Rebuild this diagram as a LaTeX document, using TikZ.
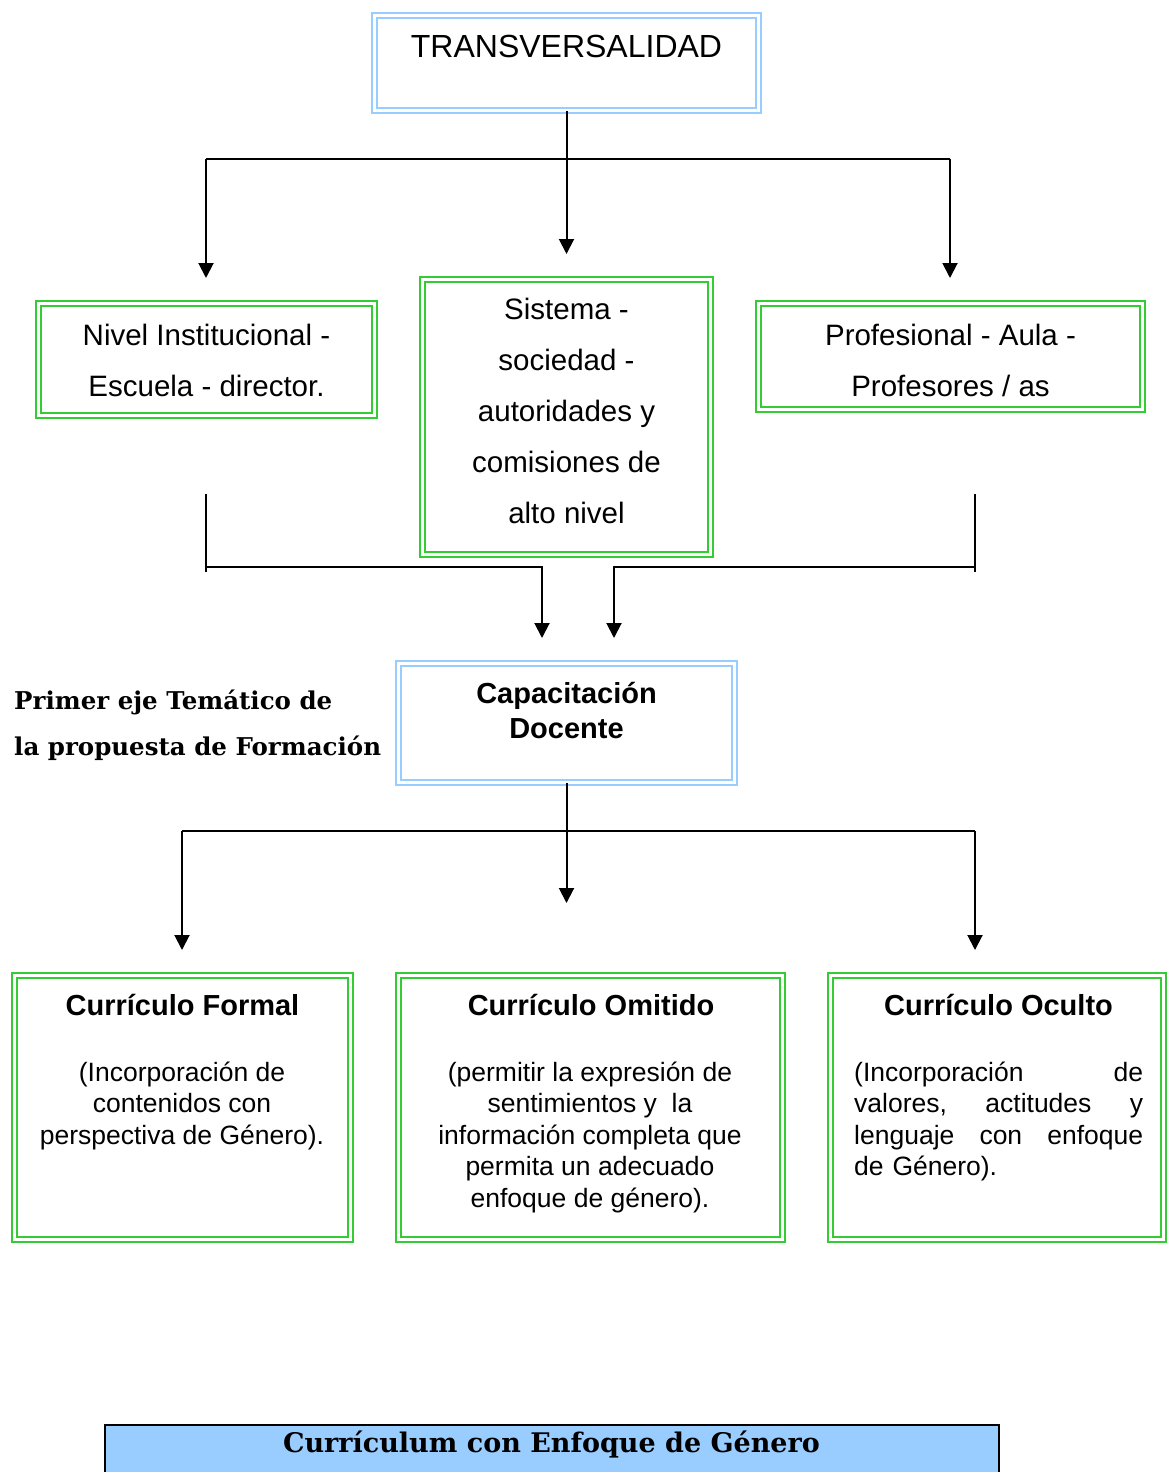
\documentclass[tikz,border=0pt]{standalone}
\usepackage{fontspec}
\setmainfont{Liberation Sans}
\newfontfamily\headserif{DejaVu Serif}
\usetikzlibrary{arrows.meta}
\definecolor{boxblue}{RGB}{153,204,255}
\definecolor{boxgreen}{RGB}{51,204,51}
\definecolor{bannerblue}{RGB}{153,204,255}

\begin{document}
\begin{tikzpicture}[x=1pt,y=-1pt,
  dbox/.style={draw=#1, double=white, double distance=2.6pt, line width=1.8pt,
               inner sep=0pt, rectangle},
  bluebox/.style={dbox=boxblue},
  greenbox/.style={dbox=boxgreen},
  conn/.style={line width=2pt, black},
  arr/.style={conn, -{Triangle[width=15pt,length=15pt]}},
  txt/.style={inner sep=0pt, anchor=base, align=center},
  big/.style={font=\fontsize{32}{38}\selectfont},
  mid/.style={font=\fontsize{29.5}{50.8}\selectfont},
  ttl/.style={font=\bfseries\fontsize{29}{35}\selectfont},
  body/.style={font=\fontsize{26.5}{31.5}\selectfont},
]
\useasboundingbox (0,0) rectangle (1167,1472);

% ---- boxes ----
\node[bluebox, minimum width=384pt, minimum height=95pt] (trans) at (566.5,63) {};
\node[greenbox, minimum width=336pt, minimum height=112pt] (inst) at (206.5,359.5) {};
\node[greenbox, minimum width=288pt, minimum height=275pt] (sist) at (566.5,417) {};
\node[greenbox, minimum width=384pt, minimum height=106pt] (prof) at (950.5,356.5) {};
\node[bluebox, minimum width=336pt, minimum height=119pt] (cap) at (566.5,723) {};
\node[greenbox, minimum width=336pt, minimum height=264pt] (formal) at (182.5,1107.5) {};
\node[greenbox, minimum width=384pt, minimum height=264pt] (omit) at (590.5,1107.5) {};
\node[greenbox, minimum width=333pt, minimum height=264pt] (oculto) at (997,1107.5) {};
\node[draw=black, line width=2pt, fill=bannerblue, inner sep=0pt,
      minimum width=894pt, minimum height=52pt] (banner) at (552,1451) {};

% ---- texts (multi-line nodes sit on the baseline of their last line) ----
\node[txt, big] (transT) at (566.5,58) {TRANSVERSALIDAD};
\node[txt, mid] (instT) at (206.5,396) {Nivel Institucional -\\Escuela - director.};
\node[txt, mid] (sistT) at (566.5,523) {Sistema -\\sociedad -\\autoridades y\\comisiones de\\alto nivel};
\node[txt, mid] (profT) at (950.5,396) {Profesional - Aula -\\Profesores / as};
\node[txt, ttl] (capT) at (566.5,738) {Capacitación\\Docente};
\node[inner sep=0pt, anchor=base west, align=left,
      font=\headserif\bfseries\fontsize{24.5}{46}\selectfont] (eje) at (14,755)
      {Primer eje Temático de\\la propuesta de Formación};

\node[txt, ttl] (formalT) at (182.5,1015) {Currículo Formal};
\node[txt, ttl] (omitT) at (591,1015) {Currículo Omitido};
\node[txt, ttl] (ocultoT) at (998.5,1015) {Currículo Oculto};

\node[txt, body] (formalB) at (182,1144)
  {(Incorporación de\\contenidos con\\perspectiva de Género).};
\node[txt, body] (omitB) at (590,1207)
  {(permitir la expresión de\\sentimientos y\ \ la\\información completa que\\permita un adecuado\\enfoque de género).};
\node[body, inner sep=0pt, anchor=base west, text width=289pt, align=left] (ocultoB) at (854,1081)
  {(Incorporación\hfill de\\valores,\hfill actitudes\hfill y\\lenguaje\hfill con\hfill enfoque\\de Género).};

\node[txt, font=\headserif\bfseries\fontsize{27}{32}\selectfont] (bannerT) at (551.5,1452)
  {Currículum con Enfoque de Género};

% ---- connector points ----
\coordinate (forkL) at (206,159);
\coordinate (forkR) at (950,159);
\coordinate (tipL) at (206,278);
\coordinate (tipM) at (566.5,254);
\coordinate (tipR) at (950,278);

\coordinate (instS) at (206,494);
\coordinate (instB) at (206,572);
\coordinate (joinL) at (206,567);
\coordinate (tipC1) at (542,638);
\coordinate (profS) at (975,494);
\coordinate (profB) at (975,572);
\coordinate (joinR) at (975,567);
\coordinate (tipC2) at (614,638);

\coordinate (splitL) at (182,831);
\coordinate (splitR) at (975,831);
\coordinate (tipF) at (182,950);
\coordinate (tipO) at (566.5,903);
\coordinate (tipH) at (975,950);

% ---- connectors ----
\draw[conn] (forkL) -- (forkR);
\draw[arr] (trans.south) -- (tipM);
\draw[arr] (forkL) -- (tipL);
\draw[arr] (forkR) -- (tipR);

\draw[conn] (instS) -- (instB);
\draw[conn] (profS) -- (profB);
\draw[arr] (joinL) -| (tipC1);
\draw[arr] (joinR) -| (tipC2);

\draw[conn] (splitL) -- (splitR);
\draw[arr] (cap.south) -- (tipO);
\draw[arr] (splitL) -- (tipF);
\draw[arr] (splitR) -- (tipH);
\end{tikzpicture}
\end{document}
